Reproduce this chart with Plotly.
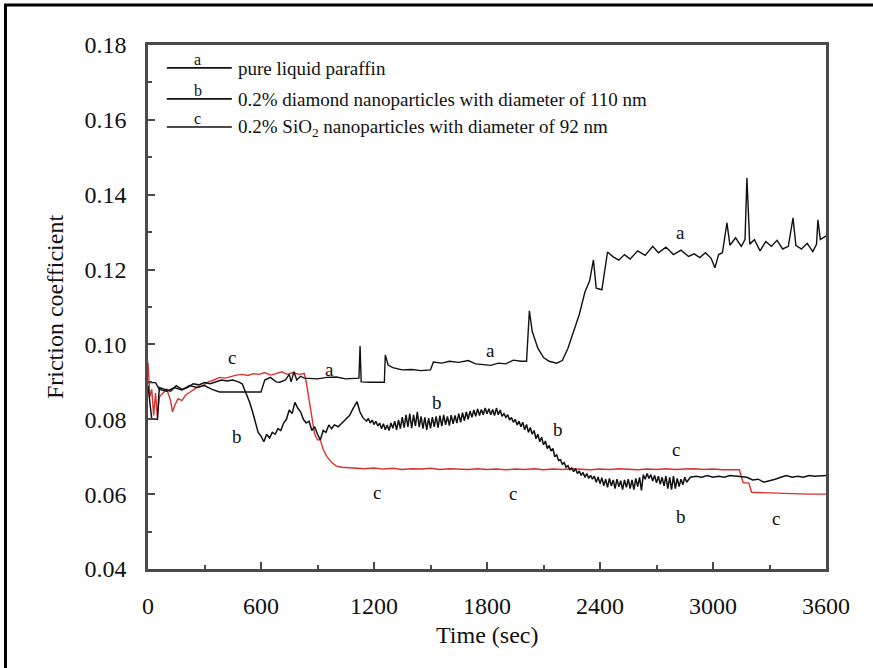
import plotly.graph_objects as go

# ---------------- data ----------------
t_a = [0, 40, 60, 100, 140, 180, 220, 260, 300, 340, 380, 450, 500, 550, 600, 620, 650, 680, 700, 730,
       750, 760, 775, 790, 810, 830, 900, 950, 1000, 1050, 1100, 1120, 1126, 1132, 1180, 1230, 1255, 1260,
       1275, 1300, 1350, 1400, 1450, 1500, 1515, 1560, 1600, 1650, 1700, 1740, 1780, 1820, 1860, 1900,
       1940, 1980, 2010, 2025, 2040, 2070, 2100, 2130, 2170, 2200, 2230, 2260, 2290, 2320, 2345, 2365,
       2380, 2410, 2440, 2470, 2500, 2530, 2560, 2600, 2640, 2680, 2710, 2750, 2790, 2830, 2870, 2900,
       2930, 2960, 2990, 3010, 3030, 3050, 3074, 3090, 3120, 3150, 3170, 3180, 3195, 3220, 3250, 3280,
       3310, 3340, 3370, 3400, 3425, 3440, 3470, 3500, 3530, 3550, 3557, 3570, 3585, 3600]
v_a = [0.0898, 0.0898, 0.0880, 0.0875, 0.0885, 0.0878, 0.0890, 0.0885, 0.0890, 0.0880, 0.0873, 0.0873,
       0.0872, 0.0873, 0.0873, 0.0905, 0.0912, 0.0900, 0.0899, 0.0905, 0.0920, 0.0900, 0.0927, 0.0905,
       0.0915, 0.0910, 0.0908, 0.0912, 0.0913, 0.0908, 0.0910, 0.0910, 0.0996, 0.0900, 0.0899, 0.0899,
       0.0899, 0.0972, 0.0945, 0.0938, 0.0932, 0.0933, 0.0930, 0.0932, 0.0953, 0.0950, 0.0955, 0.0952,
       0.0957, 0.0948, 0.0946, 0.0944, 0.0950, 0.0948, 0.0958, 0.0955, 0.0955, 0.1090, 0.1035, 0.0990,
       0.0965, 0.0955, 0.0950, 0.0957, 0.0990, 0.1035, 0.1080, 0.1140, 0.1170, 0.1226, 0.1150, 0.1146,
       0.1247, 0.1234, 0.1225, 0.1240, 0.1228, 0.1250, 0.1238, 0.1262, 0.1245, 0.1260, 0.1240, 0.1252,
       0.1235, 0.1242, 0.1232, 0.1245, 0.1230, 0.1205, 0.1240, 0.1245, 0.1325, 0.1265, 0.1285, 0.1262,
       0.1280, 0.1445, 0.1268, 0.1280, 0.1250, 0.1275, 0.1262, 0.1278, 0.1255, 0.1262, 0.1338, 0.1265,
       0.1255, 0.1270, 0.1248, 0.1268, 0.1333, 0.1280, 0.1285, 0.1290]

t_b = [0, 20, 50, 60, 90, 120, 150, 180, 210, 240,
       270, 300, 330, 360, 390, 420, 450, 480, 500, 520,
       540, 555, 570, 585, 600, 615, 630, 645, 660, 675,
       690, 705, 720, 735, 750, 765, 780, 795, 810, 825,
       840, 855, 870, 885, 900, 915, 930, 945, 960, 975,
       990, 1010, 1030, 1050, 1070, 1090, 1110, 1125, 1140, 1160,
       1170, 1180, 1190, 1200, 1210, 1220, 1230, 1240, 1250, 1260,
       1270, 1280, 1290, 1300, 1310, 1320, 1330, 1340, 1350, 1360,
       1370, 1380, 1390, 1400, 1410, 1420, 1430, 1440, 1450, 1460,
       1470, 1480, 1490, 1500, 1510, 1520, 1530, 1540, 1550, 1560,
       1570, 1580, 1590, 1600, 1610, 1620, 1630, 1640, 1650, 1660,
       1670, 1680, 1690, 1700, 1710, 1720, 1730, 1740, 1750, 1760,
       1770, 1780, 1790, 1800, 1810, 1820, 1830, 1840, 1850, 1860,
       1870, 1880, 1890, 1900, 1910, 1920, 1930, 1940, 1950, 1960,
       1970, 1980, 1990, 2000, 2010, 2020, 2030, 2040, 2050, 2060,
       2070, 2080, 2090, 2100, 2110, 2120, 2130, 2140, 2150, 2160,
       2170, 2180, 2190, 2200, 2210, 2220, 2230, 2240, 2250, 2260,
       2270, 2280, 2290, 2300, 2310, 2320, 2330, 2340, 2350, 2360,
       2370, 2380, 2390, 2400, 2410, 2420, 2430, 2440, 2450, 2460,
       2470, 2480, 2490, 2500, 2510, 2520, 2530, 2540, 2550, 2560,
       2570, 2580, 2590, 2600, 2610, 2620, 2630, 2640, 2650, 2660,
       2670, 2680, 2690, 2700, 2710, 2720, 2730, 2740, 2750, 2760,
       2770, 2780, 2790, 2800, 2810, 2820, 2830, 2840, 2850, 2860,
       2880, 2910, 2940, 2970, 3000, 3030, 3060, 3090, 3120, 3150,
       3180, 3210, 3240, 3270, 3300, 3330, 3360, 3390, 3420, 3450,
       3480, 3510, 3540, 3570, 3600]
v_b = [0.0890, 0.0800, 0.0800, 0.0885, 0.0880, 0.0875, 0.0890, 0.0880, 0.0885, 0.0895,
       0.0892, 0.0898, 0.0895, 0.0900, 0.0905, 0.0902, 0.0905, 0.0900, 0.0895, 0.0870,
       0.0845, 0.0820, 0.0790, 0.0765, 0.0755, 0.0740, 0.0760, 0.0750, 0.0765, 0.0760,
       0.0775, 0.0770, 0.0790, 0.0800, 0.0825, 0.0815, 0.0845, 0.0830, 0.0820, 0.0800,
       0.0790, 0.0795, 0.0770, 0.0780, 0.0760, 0.0745, 0.0770, 0.0765, 0.0785, 0.0775,
       0.0785, 0.0780, 0.0790, 0.0800, 0.0810, 0.0830, 0.0847, 0.0820, 0.0805, 0.0795,
       0.0802, 0.0790, 0.0798, 0.0786, 0.0795, 0.0782, 0.0790, 0.0775, 0.0788, 0.0772,
       0.0785, 0.0770, 0.0790, 0.0776, 0.0795, 0.0772, 0.0798, 0.0775, 0.0806, 0.0778,
       0.0812, 0.0780, 0.0815, 0.0776, 0.0812, 0.0782, 0.0820, 0.0779, 0.0808, 0.0775,
       0.0805, 0.0772, 0.0803, 0.0776, 0.0806, 0.0780, 0.0808, 0.0778, 0.0810, 0.0782,
       0.0812, 0.0785, 0.0808, 0.0783, 0.0811, 0.0788, 0.0810, 0.0790, 0.0815, 0.0792,
       0.0818, 0.0796, 0.0820, 0.0800, 0.0822, 0.0805, 0.0825, 0.0808, 0.0828, 0.0810,
       0.0826, 0.0812, 0.0830, 0.0815, 0.0828, 0.0812, 0.0826, 0.0810, 0.0830, 0.0812,
       0.0825, 0.0808, 0.0815, 0.0805, 0.0812, 0.0798, 0.0805, 0.0792, 0.0800, 0.0785,
       0.0795, 0.0780, 0.0792, 0.0772, 0.0786, 0.0765, 0.0778, 0.0760, 0.0770, 0.0748,
       0.0760, 0.0740, 0.0752, 0.0732, 0.0742, 0.0722, 0.0730, 0.0715, 0.0722, 0.0700,
       0.0705, 0.0690, 0.0692, 0.0680, 0.0684, 0.0672, 0.0676, 0.0665, 0.0670, 0.0660,
       0.0668, 0.0655, 0.0662, 0.0650, 0.0658, 0.0645, 0.0655, 0.0642, 0.0650, 0.0640,
       0.0648, 0.0632, 0.0646, 0.0628, 0.0644, 0.0622, 0.0640, 0.0618, 0.0642, 0.0622,
       0.0638, 0.0615, 0.0640, 0.0620, 0.0636, 0.0612, 0.0638, 0.0618, 0.0640, 0.0615,
       0.0638, 0.0612, 0.0642, 0.0620, 0.0645, 0.0610, 0.0652, 0.0640, 0.0655, 0.0642,
       0.0652, 0.0635, 0.0650, 0.0630, 0.0648, 0.0626, 0.0645, 0.0622, 0.0648, 0.0615,
       0.0645, 0.0612, 0.0648, 0.0615, 0.0642, 0.0620, 0.0640, 0.0625, 0.0645, 0.0632,
       0.0645, 0.0648, 0.0645, 0.0650, 0.0645, 0.0648, 0.0645, 0.0650, 0.0648, 0.0645,
       0.0645, 0.0638, 0.0640, 0.0632, 0.0635, 0.0640, 0.0645, 0.0650, 0.0645, 0.0648,
       0.0645, 0.0650, 0.0648, 0.0650, 0.0650]

t_c = [0, 10, 20, 30, 40, 50, 60, 80, 100, 120, 130, 145, 160, 180, 200, 230, 260, 290, 320, 350, 380,
       410, 440, 470, 500, 530, 560, 590, 620, 650, 680, 710, 740, 770, 800, 830, 840, 855, 870, 885,
       900, 915, 930, 950, 975, 1000, 1030, 1100, 1150, 1200, 1250, 1300, 1350, 1400, 1450, 1500, 1550,
       1600, 1650, 1700, 1750, 1800, 1850, 1900, 1950, 2000, 2050, 2100, 2150, 2200, 2250, 2300, 2350,
       2400, 2450, 2500, 2550, 2600, 2650, 2700, 2750, 2800, 2850, 2900, 2950, 3000, 3050, 3100, 3140,
       3160, 3190, 3205, 3300, 3400, 3500, 3600]
v_c = [0.0951, 0.0860, 0.0880, 0.0810, 0.0870, 0.0805, 0.0860, 0.0870, 0.0880, 0.0850, 0.0820, 0.0840,
       0.0855, 0.0850, 0.0865, 0.0875, 0.0885, 0.0890, 0.0900, 0.0905, 0.0912, 0.0910, 0.0915, 0.0918,
       0.0920, 0.0917, 0.0922, 0.0920, 0.0925, 0.0918, 0.0922, 0.0927, 0.0920, 0.0925, 0.0920, 0.0922,
       0.0900, 0.0850, 0.0800, 0.0760, 0.0745, 0.0745, 0.0720, 0.0700, 0.0685, 0.0675, 0.0672, 0.0670,
       0.0668, 0.0670, 0.0667, 0.0669, 0.0666, 0.0668, 0.0667, 0.0669, 0.0666, 0.0668, 0.0667, 0.0666,
       0.0668, 0.0666, 0.0667, 0.0665, 0.0667, 0.0666, 0.0668, 0.0665, 0.0667, 0.0666, 0.0668, 0.0667,
       0.0665, 0.0667, 0.0666, 0.0668, 0.0667, 0.0665, 0.0667, 0.0666, 0.0668, 0.0666, 0.0667, 0.0668,
       0.0666, 0.0667, 0.0665, 0.0666, 0.0665, 0.0630, 0.0630, 0.0605, 0.0603, 0.0602, 0.0600, 0.0600]

legend_texts = ["pure liquid paraffin",
                "0.2% diamond nanoparticles with diameter of 110 nm",
                "0.2% SiO<sub>2</sub> nanoparticles with diameter of 92 nm"]
legend_letters = ["a", "b", "c"]
legend_y = [0.1739, 0.1656, 0.1581]

label_a = [(966, 0.0932), (1816, 0.0985), (2825, 0.1298)]
label_b = [(473, 0.0753), (1535, 0.0844), (2177, 0.0772), (2830, 0.0540)]
label_c = [(446, 0.0964), (1216, 0.0605), (1938, 0.0601), (2804, 0.0718), (3334, 0.0534)]

x_ticks = [0, 600, 1200, 1800, 2400, 3000, 3600]
y_ticks = [0.04, 0.06, 0.08, 0.10, 0.12, 0.14, 0.16, 0.18]

SERIF = "Liberation Serif, Times New Roman, serif"
AXC = "#4a4a4a"

fig = go.Figure()
fig.add_trace(go.Scatter(x=t_c, y=v_c, mode="lines", line=dict(color="#d8322f", width=1.4),
                         showlegend=False, hoverinfo="skip"))
fig.add_trace(go.Scatter(x=t_a, y=v_a, mode="lines", line=dict(color="#111111", width=1.4),
                         showlegend=False, hoverinfo="skip"))
fig.add_trace(go.Scatter(x=t_b, y=v_b, mode="lines", line=dict(color="#111111", width=1.5),
                         showlegend=False, hoverinfo="skip"))

# custom legend
for letter, text, yv in zip(legend_letters, legend_texts, legend_y):
    fig.add_shape(type="line", xref="x", yref="y", x0=100, x1=445, y0=yv, y1=yv,
                  line=dict(color="#111111", width=1.6))
    fig.add_annotation(x=265, y=yv, xref="x", yref="y", text=letter, showarrow=False,
                       yanchor="bottom", yshift=-2, font=dict(family=SERIF, size=16, color="#111"))
    fig.add_annotation(x=465, y=yv, xref="x", yref="y", text=text, showarrow=False,
                       xanchor="left", yanchor="middle", yshift=-1,
                       font=dict(family=SERIF, size=19, color="#111"))

for lab, pts in (("a", label_a), ("b", label_b), ("c", label_c)):
    for (xx, yy) in pts:
        fig.add_annotation(x=xx, y=yy, xref="x", yref="y", text=lab, showarrow=False,
                           font=dict(family=SERIF, size=19, color="#111"))

# axis titles
fig.add_annotation(xref="paper", yref="paper", x=-0.137, y=0.50, xanchor="center", yanchor="middle",
                   text="Friction coefficient", textangle=-90, showarrow=False,
                   font=dict(family=SERIF, size=24, color="#111"))
fig.add_annotation(xref="paper", yref="paper", x=0.5, y=-0.126, xanchor="center", yanchor="middle",
                   text="Time (sec)", showarrow=False, font=dict(family=SERIF, size=24, color="#111"))

# outer frame
fig.add_shape(type="rect", xref="paper", yref="paper", x0=-0.2102, x1=1.3, y0=-0.4, y1=1.0762,
              line=dict(color="black", width=3), layer="below")

fig.update_xaxes(range=[0, 3600], tickvals=x_ticks, ticks="inside", ticklen=7, tickwidth=1.5,
                 tickcolor=AXC, showline=True, linecolor=AXC, linewidth=2.5, mirror=True,
                 showgrid=False, zeroline=False,
                 minor=dict(dtick=300, ticks="inside", ticklen=4, tickwidth=1.5, tickcolor=AXC),
                 tickfont=dict(family=SERIF, size=24, color="#111"), ticklabelstandoff=13)
fig.update_yaxes(range=[0.04, 0.18], tickvals=y_ticks, tickformat=".2f", ticks="inside", ticklen=7,
                 tickwidth=1.5, tickcolor=AXC, showline=True, linecolor=AXC, linewidth=2.5,
                 mirror=True, showgrid=False, zeroline=False,
                 minor=dict(dtick=0.01, ticks="inside", ticklen=4, tickwidth=1.5, tickcolor=AXC),
                 tickfont=dict(family=SERIF, size=24, color="#111"), ticklabelstandoff=14)

fig.update_layout(width=873, height=668, margin=dict(l=148, r=47, t=45, b=99),
                  paper_bgcolor="white", plot_bgcolor="white", showlegend=False)

fig.write_html("out.html")
